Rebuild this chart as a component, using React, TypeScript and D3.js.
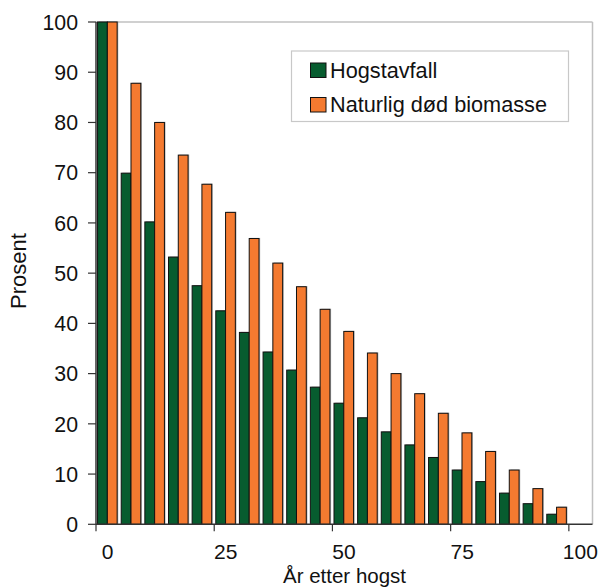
import React from "react";
import * as d3 from "d3";

const years = [0, 5, 10, 15, 20, 25, 30, 35, 40, 45, 50, 55, 60, 65, 70, 75, 80, 85, 90, 95];
const hogstavfall = [100, 69.9, 60.2, 53.2, 47.5, 42.5, 38.2, 34.3, 30.7, 27.3, 24.1, 21.2, 18.4, 15.8, 13.3, 10.8, 8.5, 6.2, 4.1, 2.0];
const naturligDod = [100, 87.8, 80.0, 73.5, 67.7, 62.1, 56.9, 52.0, 47.3, 42.8, 38.4, 34.1, 30.0, 26.0, 22.1, 18.2, 14.5, 10.8, 7.1, 3.4];
const xTicks = [0, 25, 50, 75, 100];
const yTicks = [0, 10, 20, 30, 40, 50, 60, 70, 80, 90, 100];
const seriesNames = ["Hogstavfall", "Naturlig død biomasse"];
const colors = ["#075c2f", "#f47a30"];

export default function App() {
  const W = 601, H = 588;
  const left = 96, right = 592.5, top = 22, bottom = 524.3;
  const x = d3.scaleLinear().domain([0, 105]).range([left, right]);
  const y = d3.scaleLinear().domain([0, 100]).range([bottom, top]);
  const barOff = 0.33;
  const barW = 2.07;
  const font = "'Liberation Sans', Arial, sans-serif";
  const series = [hogstavfall, naturligDod];

  return (
    <svg width={W} height={H} style={{ position: "absolute", left: 0, top: 0 }} fontFamily={font}>
      <rect x={0} y={0} width={W} height={H} fill="#fff" />
      {/* frame */}
      <line x1={left} x2={right} y1={top} y2={top} stroke="#c0c0c0" strokeWidth={1.5} />
      <line x1={right} x2={right} y1={top} y2={bottom} stroke="#c0c0c0" strokeWidth={1.5} />
      {/* bars */}
      {series.map((vals, s) =>
        vals.map((v, i) => {
          const x0 = x(years[i] + barOff + s * barW);
          const w = x(barW) - x(0);
          return (
            <g key={`${s}-${i}`}>
              <rect x={x0 + 1.2} y={y(v) - 0.6} width={w} height={bottom - y(v) + 0.6} fill="#9a9a9a" opacity={0.7} />
              <rect x={x0} y={y(v)} width={w} height={bottom - y(v)} fill={colors[s]} stroke="#111" strokeWidth={1} />
            </g>
          );
        })
      )}
      {/* y axis */}
      <line x1={left} x2={left} y1={top} y2={bottom} stroke="#333" strokeWidth={1.5} />
      {yTicks.map((t) => (
        <g key={t}>
          <line x1={left - 8} x2={left} y1={y(t)} y2={y(t)} stroke="#333" strokeWidth={1.2} />
          <text x={78} y={y(t)} dy="0.36em" textAnchor="end" fontSize={21.3} fill="#111">
            {t}
          </text>
        </g>
      ))}
      {/* x axis */}
      <line x1={left} x2={right} y1={bottom} y2={bottom} stroke="#333" strokeWidth={1.5} />
      {xTicks.map((t) => (
        <g key={t}>
          <line x1={x(t)} x2={x(t)} y1={bottom} y2={bottom + 7} stroke="#333" strokeWidth={1.2} />
          <text x={x(t) + 11.5} y={559} textAnchor="middle" fontSize={21} fill="#111">
            {t}
          </text>
        </g>
      ))}
      {/* axis titles */}
      <text x={344.5} y={583} textAnchor="middle" fontSize={20.5} fill="#111">
        År etter hogst
      </text>
      <text transform={`translate(26,271) rotate(-90)`} textAnchor="middle" fontSize={22} fill="#111">
        Prosent
      </text>
      {/* legend */}
      <rect x={291.5} y={51} width={277} height={70.5} fill="#fff" stroke="#c8c8c8" strokeWidth={1.2} />
      {seriesNames.map((n, i) => (
        <g key={n}>
          <rect x={310.5} y={63 + i * 34.5} width={15.5} height={14.5} fill={colors[i]} stroke="#111" strokeWidth={1} />
          <text x={330} y={77.5 + i * 34.3} fontSize={21.7} fill="#111">
            {n}
          </text>
        </g>
      ))}
    </svg>
  );
}
